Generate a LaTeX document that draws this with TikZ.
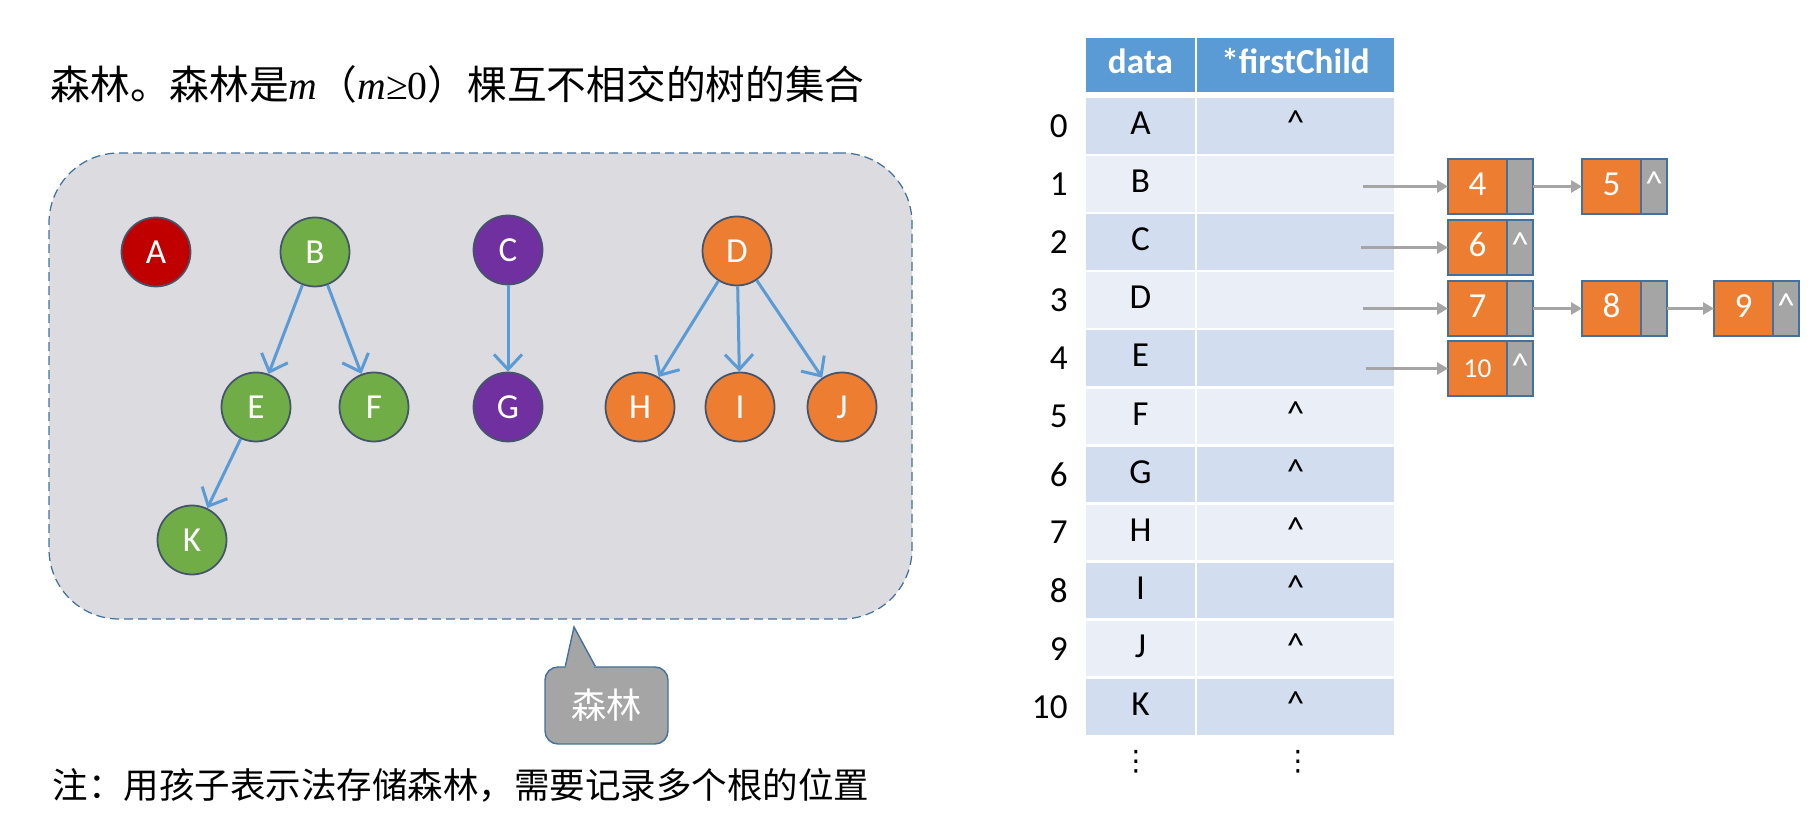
\documentclass[tikz,border=0pt]{standalone}
\usepackage{fontspec}
\setmainfont{Carlito}
\newfontfamily\cjk{Noto Sans CJK SC}
\newfontfamily\timesfont{Liberation Serif}
\newfontfamily\symfont{DejaVu Sans}
\usetikzlibrary{arrows.meta,positioning,calc}

\definecolor{treeblue}{HTML}{5B9BD5}
\definecolor{nodered}{HTML}{C00000}
\definecolor{nodegreen}{HTML}{70AD47}
\definecolor{nodepurple}{HTML}{7030A0}
\definecolor{nodeorange}{HTML}{ED7D31}
\definecolor{ptrgray}{HTML}{A5A5A5}
\definecolor{framegray}{HTML}{DCDBE0}
\definecolor{edgeblue}{HTML}{41719C}
\definecolor{circleedge}{HTML}{44546A}
\definecolor{rowdark}{HTML}{D2DEEF}
\definecolor{rowlight}{HTML}{EAEFF7}

\newcommand{\nilptr}{\textasciicircum}

\begin{document}
\begin{tikzpicture}[x=0.1mm,y=-0.1mm]
\tikzset{
     forestframe/.style={draw=edgeblue, fill=framegray, dash pattern=on 0.9mm off 0.5mm, line width=0.35pt, rounded corners=7mm},
     treenode/.style={circle, draw=circleedge, line width=0.5pt, minimum size=6.9mm, inner sep=0pt, text=white, font=\fontsize{10pt}{12pt}\selectfont},
     childedge/.style={treeblue, line width=0.3mm, -{Straight Barb[length=1.5mm,width=2.8mm]}},
     cell/.style={minimum height=5.55mm, inner sep=0pt, text height=0.7em, text depth=0.2em, font=\fontsize{10pt}{12pt}\selectfont},
     headcell/.style={cell, fill=treeblue, minimum height=5.4mm, text=white, font=\fontsize{10pt}{12pt}\selectfont\bfseries},
     rowindex/.style={anchor=east, inner sep=0pt, font=\fontsize{10pt}{12pt}\selectfont},
     elem/.style={draw=edgeblue, line width=0.4pt, fill=nodeorange, minimum width=5.9mm, minimum height=5.5mm, inner sep=0pt, outer sep=0pt, text=white, text height=0.7em, text depth=0.2em, font=\fontsize{10pt}{12pt}\selectfont},
     ptrcell/.style={elem, fill=ptrgray, minimum width=2.6mm},
     nextlink/.style={ptrgray, line width=0.27mm, -{Triangle[length=1.1mm,width=1.2mm]}},
     bubble/.style={draw=edgeblue, line width=0.4pt, fill=ptrgray, rounded corners=1.3mm, minimum width=12.3mm, minimum height=7.7mm, text=white, font=\cjk\fontsize{10pt}{12pt}\selectfont},
     moredots/.style={inner sep=0pt, font=\symfont\fontsize{8pt}{9pt}\selectfont}}

\useasboundingbox (0,0) rectangle (1814,814);

% The texts
\node (title) [anchor=west, inner sep=0pt, font=\cjk\fontsize{11.3pt}{13pt}\selectfont] at (50,84)
  {森林。森林是{\timesfont\itshape m}（{\timesfont\itshape m}{\timesfont ≥0}）棵互不相交的树的集合};
\node (note) [anchor=west, inner sep=0pt, font=\cjk\fontsize{10.1pt}{12pt}\selectfont] at (52,785)
  {注：用孩子表示法存储森林，需要记录多个根的位置};

% The forest
\node (forest) [forestframe, minimum width=86.3mm, minimum height=46.6mm] at (480.5,386) {};

\node (A) [treenode, fill=nodered]    at (156,252) {A};
\node (B) [treenode, fill=nodegreen]  at (315,252) {B};
\node (C) [treenode, fill=nodepurple] at (508,250) {C};
\node (D) [treenode, fill=nodeorange] at (737,251) {D};
\node (E) [treenode, fill=nodegreen]  at (256,407) {E};
\node (F) [treenode, fill=nodegreen]  at (374,407) {F};
\node (G) [treenode, fill=nodepurple] at (508,407) {G};
\node (H) [treenode, fill=nodeorange] at (640,407) {H};
\node (I) [treenode, fill=nodeorange] at (740,407) {I};
\node (J) [treenode, fill=nodeorange] at (842,407) {J};
\node (K) [treenode, fill=nodegreen]  at (192,540) {K};

\draw [childedge] (B) -- (E);
\draw [childedge] (B) -- (F);
\draw [childedge] (C) -- (G);
\draw [childedge] (D) -- (H);
\draw [childedge] (D) -- (I);
\draw [childedge] (D) -- (J);
\draw [childedge] (E) -- (K);

% The callout
\node (bubble) [bubble] at (606.5,705.5) {森林};
\coordinate (tip) at (574,627);
\fill [ptrgray] ($(bubble.north west)+(21,0)$) -- (tip) -- ($(bubble.north west)+(51,0)$) -- cycle;
\fill [ptrgray] ($(bubble.north west)+(22,-1)$) rectangle ($(bubble.north west)+(50,1.5)$);
\draw [edgeblue, line width=0.4pt] ($(bubble.north west)+(21,0)$) -- (tip) -- ($(bubble.north west)+(51,0)$);

% The table
\node (hd) [headcell, minimum width=10.9mm] at (1140.5,65) {data};
\node (hp) [headcell, minimum width=19.7mm] at (1295.5,65) {*firstChild};

\foreach \val/\ptr/\shade [count=\r from 0] in {A/\nilptr/rowdark, B//rowlight, C//rowdark, D//rowlight,
    E//rowdark, F/\nilptr/rowlight, G/\nilptr/rowdark, H/\nilptr/rowlight, I/\nilptr/rowdark,
    J/\nilptr/rowlight, K/\nilptr/rowdark}
{
  \node (d\r) [cell, fill=\shade, minimum width=10.9mm] at (1140.5,{125.8+58.1*\r}) {\val};
  \node (p\r) [cell, fill=\shade, minimum width=19.7mm] at (1295.5,{125.8+58.1*\r}) {\ptr};
  \node (i\r) [rowindex] at ($(d\r.west)+(-17,0)$) {\r};
}

\node (dotsd) [moredots] at (1136,762) {⋮};
\node (dotsp) [moredots] at (1298,762) {⋮};

% The child lists
\node (n4)  [elem] at (1477.5,186.5) {4};
\node (n4p) [ptrcell, right=0pt of n4] {};
\node (n5)  [elem, right=4.9mm of n4p] {5};
\node (n5p) [ptrcell, right=0pt of n5] {\nilptr};

\node (n6)  [elem, below=0.6mm of n4] {6};
\node (n6p) [ptrcell, right=0pt of n6] {\nilptr};

\node (n7)  [elem, below=0.6mm of n6] {7};
\node (n7p) [ptrcell, right=0pt of n7] {};
\node (n8)  [elem, right=4.9mm of n7p] {8};
\node (n8p) [ptrcell, right=0pt of n8] {};
\node (n9)  [elem, right=4.7mm of n8p] {9};
\node (n9p) [ptrcell, right=0pt of n9] {\nilptr};

\node (n10)  [elem, below=0.5mm of n7, font=\fontsize{7.8pt}{9pt}\selectfont] {10};
\node (n10p) [ptrcell, right=0pt of n10] {\nilptr};

\draw [nextlink] ($(n4.west -| p1.center)+(67,0)$) -- (n4.west);
\draw [nextlink] ($(n6.west -| p2.center)+(65,0)$) -- (n6.west);
\draw [nextlink] ($(n7.west -| p3.center)+(67,0)$) -- (n7.west);
\draw [nextlink] ($(n10.west -| p4.center)+(70,0)$) -- (n10.west);
\draw [nextlink] (n4p.east) -- (n5.west);
\draw [nextlink] (n7p.east) -- (n8.west);
\draw [nextlink] (n8p.east) -- (n9.west);
\end{tikzpicture}
\end{document}
